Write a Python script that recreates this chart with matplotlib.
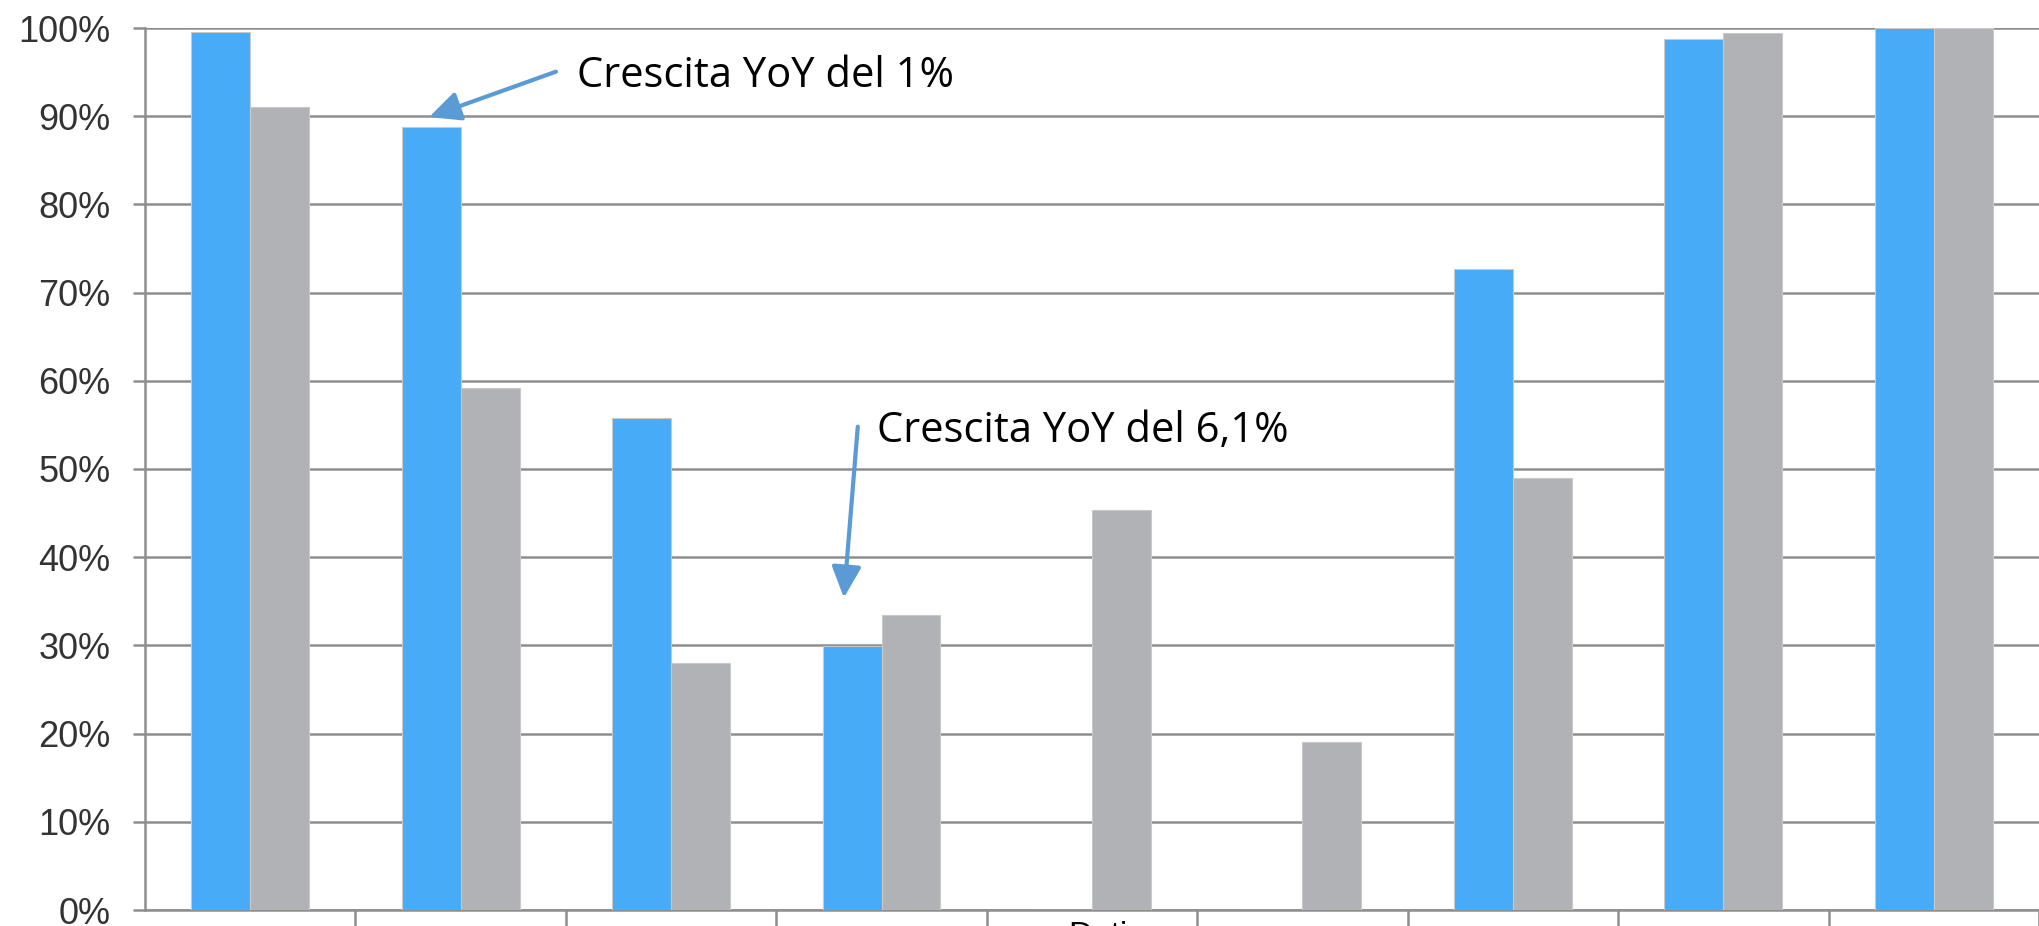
import matplotlib.pyplot as plt
import numpy as np

# values (percent)
categories = ['', '', '', '', '', '', '', '', '']
blue_vals = [99.6, 88.8, 55.8, 29.9, 0, 0, 72.7, 98.8, 100]
gray_vals = [91.0, 59.2, 28.0, 33.5, 45.4, 19.0, 49.0, 99.4, 100]
yticks = [0, 10, 20, 30, 40, 50, 60, 70, 80, 90, 100]
ytick_labels = ['%d%%' % v for v in yticks]
note1 = 'Crescita YoY del 1%'
note2 = 'Crescita YoY del 6,1%'
xlabel = 'Dati'

blue = '#48abf7'
gray = '#b1b2b6'
line_col = '#8e8e8e'
arrow_col = '#5b9bd5'

fig = plt.figure(figsize=(20.39, 9.26), dpi=100)
ax = fig.add_axes([145 / 2039, 1 - 910 / 926, 1 - 145 / 2039, (910 - 28) / 926])

x = np.arange(len(categories))
w = 0.28
ax.bar(x - w / 2, blue_vals, w, color=blue, edgecolor='#c9c9c9', linewidth=0.8, zorder=3)
ax.bar(x + w / 2, gray_vals, w, color=gray, edgecolor='#c9c9c9', linewidth=0.8, zorder=3)

# the chart is cropped on the right, last category only partly visible
ax.set_xlim(-0.5, 8.396)
ax.set_ylim(0, 100)

ax.set_yticks(yticks)
ax.set_yticklabels(ytick_labels, fontsize=26, color='#333333', family='Liberation Sans')
ax.yaxis.grid(True, color=line_col, linewidth=1.8, zorder=0)
ax.set_axisbelow(True)

ax.set_xticks(x + 0.5)
ax.set_xticklabels([])
ax.tick_params(axis='x', length=12, width=1.8, color=line_col)
ax.tick_params(axis='y', length=9, width=1.8, color=line_col, pad=16)

for s in ['top', 'right']:
    ax.spines[s].set_visible(False)
for s in ['left', 'bottom']:
    ax.spines[s].set_color(line_col)
    ax.spines[s].set_linewidth(1.8)

# annotations
arrow = dict(arrowstyle='-|>,head_length=0.95,head_width=0.45', mutation_scale=20,
             color=arrow_col, lw=3, shrinkA=0, shrinkB=0)
ax.annotate('', xy=(0.85, 89.9), xytext=(1.453, 95.05), arrowprops=arrow, zorder=5)
ax.text(1.552, 93.35, note1, fontsize=30, family='Open Sans', va='baseline', ha='left',
        color='black')

ax.annotate('', xy=(2.821, 35.4), xytext=(2.887, 54.8), arrowprops=arrow, zorder=5)
ax.text(2.976, 53.1, note2, fontsize=30, family='Open Sans', va='baseline', ha='left',
        color='black')

# cut-off axis title at the bottom edge
fig.text(1098 / 2039, 1 - 921 / 926, xlabel, fontsize=24, ha='center', va='top',
         color='black', family='Liberation Sans')

fig.savefig('out.png', dpi=100)
